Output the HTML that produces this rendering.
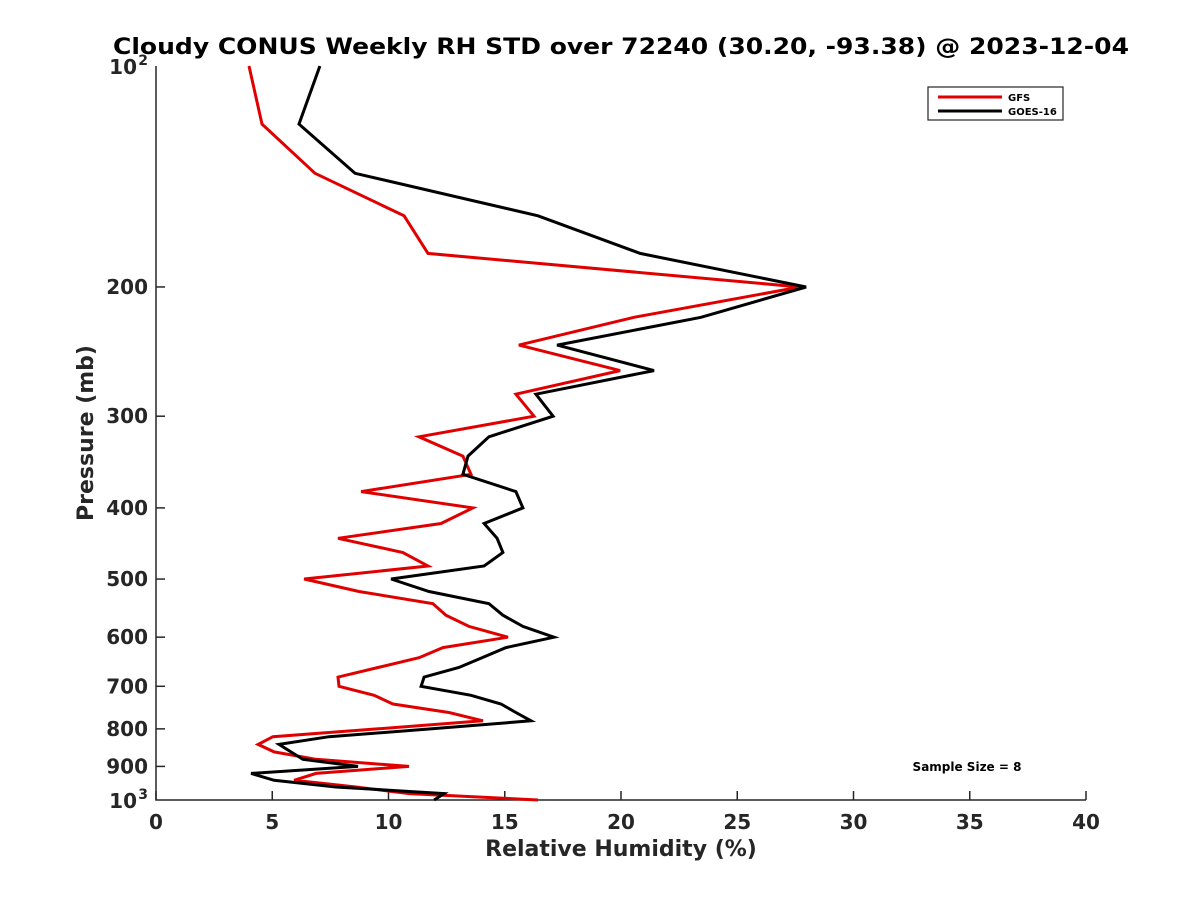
<!DOCTYPE html>
<html><head><meta charset="utf-8"><style>
body{margin:0;background:#fff;}
svg{font-family:"DejaVu Sans","Liberation Sans",sans-serif;font-weight:bold;}
</style></head><body>
<svg id="c" width="1200" height="900"></svg>
<script>
const levels=[100,120,140,160,180,200,220,240,260,280,300,320,340,360,380,400,420,440,460,480,500,520,540,560,580,600,620,640,660,680,700,720,740,760,780,800,820,840,860,880,900,920,940,960,980,1000];
const gfs=[4.0,4.56,6.84,10.67,11.7,27.7,20.56,15.61,19.96,15.48,16.26,11.31,13.2,13.55,8.82,13.63,12.26,7.83,10.62,11.7,6.37,8.73,11.91,12.47,13.46,15.14,12.34,11.31,9.55,7.83,7.87,9.38,10.19,12.6,14.06,9.5,5.03,4.39,5.08,6.88,10.88,6.88,5.94,8.6,10.9,16.43];
const goes=[7.05,6.15,8.56,16.43,20.82,27.96,23.44,17.25,21.42,16.34,17.08,14.32,13.42,13.2,15.48,15.78,14.11,14.67,14.92,14.11,10.11,11.74,14.32,14.92,15.78,17.12,15.05,14.02,13.03,11.53,11.4,13.55,14.84,15.48,16.13,11.8,7.44,5.29,5.8,6.32,8.69,4.09,5.08,7.74,12.39,11.96];
const xTicks=[0,5,10,15,20,25,30,35,40];
const yTicks=[200,300,400,500,600,700,800,900];
const L=156,R=1086,T=66,B=800;
const xs=v=>L+(v-0)/40*(R-L);
const ys=p=>T+Math.log10(p/100)*(B-T);
const svg=document.getElementById('c');
const NS='http://www.w3.org/2000/svg';
function mk(tag,attrs,txt){const e=document.createElementNS(NS,tag);for(const k in attrs)e.setAttribute(k,attrs[k]);if(txt!==undefined)e.textContent=txt;svg.appendChild(e);return e;}
let e;
e=mk('path',{d:`M${L},${T}V${B}H${R}`,fill:'none',stroke:'#262626','stroke-width':1.5});


xTicks.forEach(t=>{
 e=mk('line',{x1:xs(t),x2:xs(t),y1:B,y2:B-9,stroke:'#262626','stroke-width':1.5});
 
 
 e=mk('text',{x:xs(t),y:B+29,'text-anchor':'middle','font-size':20,fill:'#262626'},String(t));
 
 
});
yTicks.forEach(t=>{
 e=mk('line',{x1:L,x2:L+9,y1:ys(t),y2:ys(t),stroke:'#262626','stroke-width':1.5});
 
 
 e=mk('text',{x:L-8,y:ys(t)+7,'text-anchor':'end','font-size':20,fill:'#262626'},String(t));
 
 
});
[[100,'2'],[1000,'3']].forEach(([p,s])=>{
 e=mk('text',{x:L-19,y:ys(p)+8,'text-anchor':'end','font-size':20,fill:'#262626'},'10');
 
 
 e=mk('text',{x:L-8,y:ys(p)-1,'text-anchor':'end','font-size':14,fill:'#262626'},s);
 
 
});
function line(vals,col,name){
 const d=vals.map((v,i)=>(i?'L':'M')+xs(v).toFixed(1)+','+ys(levels[i]).toFixed(1)).join('');
 const el=mk('path',{d,fill:'none',stroke:col,'stroke-width':3,'stroke-linejoin':'miter'});
 
 
}
line(gfs,'#e00000','gfs-line');
line(goes,'#000','goes16-line');
e=mk('text',{x:621,y:54,'text-anchor':'middle','font-size':22,fill:'#000',textLength:1016,lengthAdjust:'spacingAndGlyphs'},'Cloudy CONUS Weekly RH STD over 72240 (30.20, -93.38) @ 2023-12-04');


e=mk('text',{x:621,y:856,'text-anchor':'middle','font-size':22,fill:'#262626'},'Relative Humidity (%)');


e=mk('text',{x:93,y:433,'text-anchor':'middle','font-size':22,fill:'#262626',transform:'rotate(-90 93 433)'},'Pressure (mb)');


e=mk('rect',{x:928,y:87,width:135,height:33,fill:'#fff',stroke:'#262626','stroke-width':1.2});


[['#e00000','GFS',97],['#000','GOES-16',111]].forEach(([c,t,y])=>{
 e=mk('line',{x1:938,x2:1002,y1:y,y2:y,stroke:c,'stroke-width':3});
 
 
 e=mk('text',{x:1008,y:y+4,'font-size':10,fill:'#000'},t);
 
 
});
e=mk('text',{x:967,y:771,'text-anchor':'middle','font-size':12,fill:'#000'},'Sample Size = 8');


</script>
</body></html>
